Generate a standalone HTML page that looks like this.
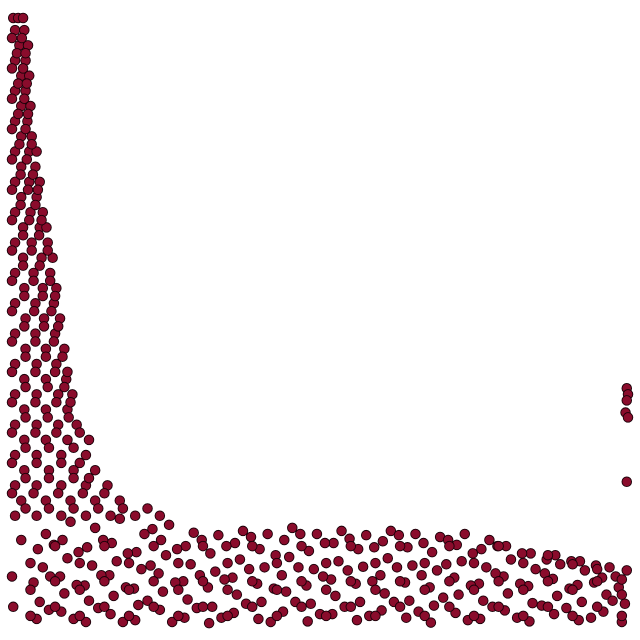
<!DOCTYPE html>
<html><head><meta charset="utf-8"><style>html,body{margin:0;padding:0;background:#fff;}svg{display:block}</style></head>
<body>
<svg id="chart" width="640" height="640" viewBox="0 0 640 640">
<g id="pts"></g>
</svg>
<script>
const bottomX=[40,45,35,50,42,55,80,85,78,90,82,95,120,125,118,130,122,135,160,165,158,170,162,175,200,205,198,210,202,215,240,245,238,250,242,255,280,285,278,290,282,295,320,325,318,330,322,335,360,365,358,370,362,375,400,405,398,410,402,415,440,445,438,450,442,455,480,485,478,490,482,495,520,525,518,530,522,535,560,565,558,570,562,575,600,605,598,610,602,615,640,645,638,650,642,655,680,685,678,690,682,695,720,725,718,730,722,735,760,765,758,770,762,775,800,805,798,810,802,840,845,838,850,842,880,885,878,890,882,920,925,918,930,922,960,965,958,970,990,995,985,998,
60,62,68,100,105,108,140,145,148,180,185,188,220,225,228,260,265,268,300,305,308,340,345,348,380,385,388,420,425,428,460,465,468,500,505,508,540,545,548,580,585,588,620,625,628,660,665,668,700,705,708,740,745,748,780,785,788,820,825,828,860,865,868,900,905,908,940,945,948,975,980];
const bottomY=[10,38,70,95,125,150,22,52,80,110,140,170,5,40,65,98,128,160,18,48,82,105,135,175,8,33,60,92,120,150,25,55,85,115,140,165,12,42,72,100,130,152,3,30,62,88,118,148,20,50,78,108,135,155,10,38,68,95,125,150,22,55,82,112,140,160,6,35,65,92,122,150,18,48,75,105,135,155,8,38,68,96,125,148,24,52,82,110,138,155,12,40,70,98,128,150,4,32,62,90,120,145,20,50,78,105,132,150,10,40,68,95,125,140,24,52,80,108,130,6,36,64,92,118,18,48,76,100,115,8,38,66,90,105,22,50,78,95,5,35,62,90,
25,80,132,10,66,120,28,82,140,5,62,118,40,98,158,5,70,125,28,82,140,12,75,130,35,92,145,5,60,115,38,95,150,18,80,135,30,90,142,15,72,128,38,95,148,22,82,135,45,100,140,8,65,118,30,85,130,12,68,118,32,85,108,28,60,105,12,70,98,40,80];
const bottomX2=[30,30,30,70,70,70,110,110,110,150,150,150,190,190,190,230,230,230,270,270,270,310,310,310,350,350,350,390,390,390,430,430,430,470,470,470,510,510,510,550,550,550,590,590,590,630,630,630,670,670,670,710,710,710,750,750,750,790,790,790,830,830,830,870,870,870,910,910,910,950,950,950,990,990,990,15,0,2];
const bottomY2=[15,58,102,30,72,130,15,58,102,30,72,130,15,58,102,30,72,130,15,58,102,30,72,130,15,58,102,30,72,130,15,58,102,30,72,130,15,58,102,30,72,130,15,58,102,30,72,130,15,58,102,30,72,130,15,58,102,30,72,130,15,58,102,30,72,115,15,58,100,30,72,92,15,50,75,140,80,30];
const leftX=[5,40,80,120,160,200,240,15,55,95,135,175,5,40,80,120,155,20,60,100,135,5,40,80,120,20,55,90,125,5,40,75,105,20,55,90,5,40,75,98,20,55,88,5,40,72,22,55,85,5,38,70,22,52,78,5,38,68,20,50,72,5,35,62,18,48,66,5,32,58,18,45,56,5,30,50,15,40,5,28,45,15,38,5,28,40,15,32,5,25,15,30,5,22,15,28,5,22,12,26,5,20,2,10,18];
const leftY=[180,180,180,180,180,180,180,205,205,205,205,205,230,230,230,230,230,255,255,255,255,280,280,280,280,305,305,305,305,330,330,330,330,355,355,355,380,380,380,380,405,405,405,430,430,430,455,455,455,480,480,480,505,505,505,530,530,530,555,555,555,580,580,580,605,605,605,630,630,630,655,655,655,680,680,680,705,705,730,730,730,755,755,780,780,780,805,805,830,830,855,855,880,880,905,905,930,930,955,955,980,980,1000,1000,1000];
const leftX2=[22,60,100,140,180,220,0,35,75,115,150,22,60,100,125,0,40,80,110,22,60,100,0,38,72,110,22,58,92,0,38,72,95,22,58,85,0,38,70,90,22,55,82,0,38,68,20,52,75,0,36,64,20,50,70,0,35,62,18,45,0,32,58,18,44,0,28,48,14,38,0,26,42,14,34,0,24,12,32,0,22,10,26,0,20,10,24,0,18,8,22,0,16];
const leftY2=[192,192,192,192,192,192,217,217,217,217,217,242,242,242,242,267,267,267,267,292,292,292,317,317,317,317,342,342,342,367,367,367,367,392,392,392,417,417,417,417,442,442,442,467,467,467,492,492,492,517,517,517,542,542,542,567,567,567,592,592,617,617,617,642,642,667,667,667,692,692,717,717,717,742,742,767,767,792,792,817,817,842,842,867,867,892,892,917,917,942,942,967,967];
const outX=[998,1000,998,996,1000,998];
const outY=[390,380,370,350,342,236];
const xScale=v=>12+v*0.616;
const yScale=v=>625-v*0.607;
const g=document.getElementById('pts');
function draw(xs,ys,name){
  for(let i=0;i<xs.length;i++){
    const c=document.createElementNS('http://www.w3.org/2000/svg','circle');
    c.setAttribute('cx',xScale(xs[i]));
    c.setAttribute('cy',yScale(ys[i]));
    c.setAttribute('r',4.8);
    c.setAttribute('fill','#8a0c2c');
    c.setAttribute('stroke','#1a0008');
    c.setAttribute('stroke-width','0.9');
    
    
    g.appendChild(c);
  }
}
draw(bottomX,bottomY,'point-bottom');
draw(bottomX2,bottomY2,'point-bottom');
draw(leftX,leftY,'point-left');
draw(leftX2,leftY2,'point-left');
draw(outX,outY,'point-outlier');
</script>
</body></html>
